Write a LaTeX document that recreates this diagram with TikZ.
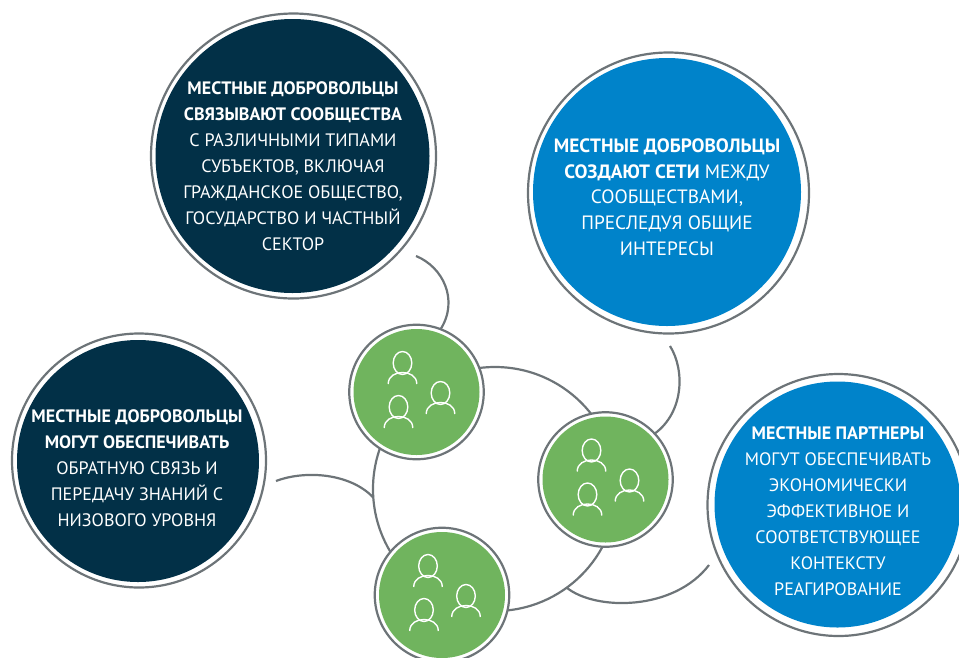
\documentclass[tikz,border=0pt]{standalone}
\usepackage{fontspec}
\setmainfont{PT Sans}
\definecolor{darkb}{HTML}{023047}
\definecolor{bluec}{HTML}{0083CA}
\definecolor{greenc}{HTML}{70B45E}
\definecolor{ringc}{HTML}{6D7478}
\tikzset{
  x=1pt,y=-1pt,
  outerring/.style={circle,draw=ringc,line width=2.2pt,fill=white,inner sep=0pt,outer sep=0pt,minimum size=#1},
  fillc/.style n args={2}{circle,fill=#1,inner sep=0pt,minimum size=#2},
  body/.style={align=center,text=white,font=\fontsize{18}{25.9}\selectfont},
  bodylarge/.style={align=center,text=white,font=\fontsize{19.3}{25.7}\selectfont},
  conn/.style={draw=ringc,line width=2.2pt},
  person/.pic={
    \draw[white,line width=1.4pt] (0,0) ellipse [x radius=9.3,y radius=11.5];
    \draw[white,line width=1.4pt] (-14.3,21) .. controls (-14.3,13) and (-7,9.5) .. (0,9.5) .. controls (7,9.5) and (14.3,13) .. (14.3,21);
  },
  trio/.pic={
    \pic at (-14,-29) {person};
    \pic at (24,1) {person};
    \pic at (-18,15) {person};
  }
}
\begin{document}
\begin{tikzpicture}
\useasboundingbox (0,0) rectangle (959,657);
\clip (0,0) rectangle (959,657);
% ring
\node[circle,conn,minimum size=244pt,inner sep=0pt,outer sep=0pt] (hub) at (495,489) {};
% big circles
\node[outerring=285pt] (a) at (293.5,156) {};
\node[fillc={darkb}{274pt}] at (292.5,156) {};
\node[outerring=281pt] (b) at (668.5,193) {};
\node[fillc={bluec}{268pt}] at (667,192) {};
\node[outerring=254pt] (c) at (139,460.5) {};
\node[fillc={darkb}{242pt}] at (138,461) {};
\node[outerring=262pt] (d) at (838.5,505) {};
\node[fillc={bluec}{246pt}] at (837.5,504.5) {};
% green circles
\node[outerring=134.5pt] (g1) at (416.5,392) {};
\node[fillc={greenc}{126pt}] at (g1) {};
\node[outerring=134.5pt] (g2) at (605.5,479.5) {};
\node[fillc={greenc}{126pt}] at (g2) {};
\node[outerring=134.5pt] (g3) at (442,595) {};
\node[fillc={greenc}{126pt}] at (g3) {};
\pic at (g1) {trio};
\pic at (g2) {trio};
\pic at (g3) {trio};
% connectors
\coordinate (t1) at (416,256);
\coordinate (t2) at (670,346);
\coordinate (t3) at (276,481);
\coordinate (t4) at (709,565);
\draw[conn] (t1) .. controls (443,267) and (459,300) .. (g1.69);
\draw[conn] (t2) .. controls (685,370) and (684,412) .. (g2.43);
\draw[conn] (t3) .. controls (305,470) and (350,473) .. (hub.184);
\draw[conn] (hub.-54) .. controls (596,611) and (674,611) .. (t4);
% text
\node[body] at (293,166) {\textbf{МЕСТНЫЕ ДОБРОВОЛЬЦЫ}\\\textbf{СВЯЗЫВАЮТ СООБЩЕСТВА}\\С РАЗЛИЧНЫМИ ТИПАМИ\\СУБЪЕКТОВ, ВКЛЮЧАЯ\\ГРАЖДАНСКОЕ ОБЩЕСТВО,\\ГОСУДАРСТВО И ЧАСТНЫЙ\\СЕКТОР};
\node[bodylarge] at (667,197) {\textbf{МЕСТНЫЕ ДОБРОВОЛЬЦЫ}\\\textbf{СОЗДАЮТ СЕТИ} МЕЖДУ\\СООБЩЕСТВАМИ,\\ПРЕСЛЕДУЯ ОБЩИЕ\\ИНТЕРЕСЫ};
\node[body] at (137,468) {\textbf{МЕСТНЫЕ ДОБРОВОЛЬЦЫ}\\\textbf{МОГУТ ОБЕСПЕЧИВАТЬ}\\ОБРАТНУЮ СВЯЗЬ И\\ПЕРЕДАЧУ ЗНАНИЙ С\\НИЗОВОГО УРОВНЯ};
\node[body] at (838,511) {\textbf{МЕСТНЫЕ ПАРТНЕРЫ}\\МОГУТ ОБЕСПЕЧИВАТЬ\\ЭКОНОМИЧЕСКИ\\ЭФФЕКТИВНОЕ И\\СООТВЕТСТВУЮЩЕЕ\\КОНТЕКСТУ\\РЕАГИРОВАНИЕ};
\end{tikzpicture}
\end{document}
